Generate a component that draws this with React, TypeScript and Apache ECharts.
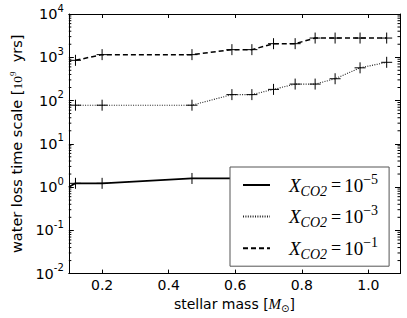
import React, { useEffect, useRef } from "react";
import * as echarts from "echarts";

// stellar masses [M_sun]
const masses = [0.12, 0.2, 0.47, 0.59, 0.65, 0.715, 0.78, 0.84, 0.9, 0.975, 1.055];
// X_CO2 = 1e-1 (dashed)
const dashedValues = [850, 1150, 1150, 1500, 1500, 2060, 2060, 2780, 2780, 2780, 2780];
// X_CO2 = 1e-3 (dotted)
const dottedValues = [78, 78, 78, 137, 137, 181, 240, 240, 319, 570, 765];
// X_CO2 = 1e-5 (solid), visible part
const solidMasses = [0.1, 0.12, 0.2, 0.47, 0.59];
const solidValues = [1.0, 1.22, 1.22, 1.58, 1.58];

const xTicks = [0.2, 0.4, 0.6, 0.8, 1.0];
const yExponents = [-2, -1, 0, 1, 2, 3, 4];
const minorMultipliers = [2, 3, 4, 5, 6, 7, 8, 9];

const legendNames = ["solid", "dotted", "dashed"];
const legendExponents = ["−5", "−3", "−1"];

const X_MIN = 0.1;
const X_MAX = 1.095;

const PLUS = "path://M5,0L5,10M0,5L10,5";

export default function App() {
  const ref = useRef<HTMLDivElement>(null);

  useEffect(() => {
    if (!ref.current) return;
    const chart = echarts.init(ref.current, null, { renderer: "svg" });

    const minorVals: number[][] = [];
    yExponents.slice(0, -1).forEach((e) => {
      minorMultipliers.forEach((m) => minorVals.push([X_MIN, m * Math.pow(10, e)]));
    });

    const sans = "DejaVu Sans";
    const serif = "Liberation Serif";

    const plusItem = { color: "none", borderColor: "#000", borderWidth: 1 };

    const option: any = {
      animation: false,
      backgroundColor: "#fff",
      grid: { left: 63, right: 7, top: 14, bottom: 42, containLabel: false },
      xAxis: [
        {
          type: "value",
          min: X_MIN,
          max: X_MAX,
          position: "bottom",
          splitLine: { show: false },
          axisLine: { show: true, onZero: false, lineStyle: { color: "#000", width: 1 } },
          axisTick: { inside: true, length: 4, customValues: xTicks, lineStyle: { color: "#000" } },
          axisLabel: {
            customValues: xTicks,
            margin: 4,
            color: "#000",
            fontSize: 14,
            fontFamily: sans,
            formatter: (v: number) => v.toFixed(1),
          },
          name: "{a|stellar mass [}{m|M}{s|⊙}{a|]}",
          nameLocation: "middle",
          nameGap: 15,
          nameTextStyle: {
            rich: {
              a: { fontSize: 14, fontFamily: sans, color: "#000", lineHeight: 18 },
              m: { fontSize: 15, fontFamily: serif, fontStyle: "italic", color: "#000", lineHeight: 18 },
              s: { fontSize: 10, fontFamily: sans, color: "#000", lineHeight: 10, verticalAlign: "bottom" },
            },
          },
        },
        {
          type: "value",
          min: X_MIN,
          max: X_MAX,
          position: "top",
          splitLine: { show: false },
          axisLine: { show: true, onZero: false, lineStyle: { color: "#000", width: 1 } },
          axisTick: { inside: true, length: 4, customValues: xTicks, lineStyle: { color: "#000" } },
          axisLabel: { show: false },
        },
      ],
      yAxis: [
        {
          type: "log",
          logBase: 10,
          min: 0.01,
          max: 10000,
          interval: 1,
          position: "left",
          splitLine: { show: false },
          axisLine: { show: true, onZero: false, lineStyle: { color: "#000", width: 1 } },
          axisTick: { inside: true, length: 5, lineStyle: { color: "#000" } },
          axisLabel: {
            margin: 5,
            color: "#000",
            formatter: (v: number) => {
              const e = Math.round(Math.log10(v));
              return "{b|10}{s|" + e + "}";
            },
            rich: {
              b: { fontSize: 14.5, fontFamily: sans, color: "#000", lineHeight: 22 },
              s: { fontSize: 10, fontFamily: sans, color: "#000", lineHeight: 10, verticalAlign: "top" },
            },
          },
          name: "{a|water loss time scale [}{m|10}{s|9}{a|  yrs]}",
          nameLocation: "middle",
          nameGap: 40,
          nameTextStyle: {
            rich: {
              a: { fontSize: 14.5, fontFamily: sans, color: "#000", lineHeight: 18 },
              m: { fontSize: 13.5, fontFamily: serif, color: "#000", lineHeight: 18 },
              s: { fontSize: 9, fontFamily: serif, color: "#000", lineHeight: 9, verticalAlign: "top" },
            },
          },
        },
        {
          type: "log",
          logBase: 10,
          min: 0.01,
          max: 10000,
          interval: 1,
          position: "right",
          splitLine: { show: false },
          axisLine: { show: true, onZero: false, lineStyle: { color: "#000", width: 1 } },
          axisTick: { inside: true, length: 5, lineStyle: { color: "#000" } },
          axisLabel: { show: false },
        },
      ],
      legend: {
        orient: "vertical",
        left: 230,
        top: 167,
        data: legendNames,
        backgroundColor: "#fff",
        borderColor: "#555",
        borderWidth: 1,
        borderRadius: 0,
        padding: [5, 11, 5, 12],
        itemGap: 5.6,
        itemWidth: 27,
        itemHeight: 14,
        itemStyle: { opacity: 0 },
        formatter: (name: string) => {
          const i = legendNames.indexOf(name);
          return "{g| }{x|X}{c|CO2}{q|=}{e|10}{p|" + legendExponents[i] + "}";
        },
        textStyle: {
          rich: {
            g: { width: 14, fontSize: 10, lineHeight: 26 },
            x: { fontSize: 19, fontFamily: serif, fontStyle: "italic", color: "#000", lineHeight: 26 },
            c: { fontSize: 14, fontFamily: serif, fontStyle: "italic", color: "#000", lineHeight: 11, verticalAlign: "bottom" },
            q: { fontSize: 18, fontFamily: serif, color: "#000", lineHeight: 26, padding: [0, 3, 0, 4] },
            e: { fontSize: 19, fontFamily: serif, color: "#000", lineHeight: 26 },
            p: { fontSize: 14, fontFamily: serif, color: "#000", lineHeight: 13, verticalAlign: "top" },
          },
        },
      },
      series: [
        {
          name: "solid",
          type: "line",
          data: solidMasses.map((m, i) => ({
            value: [m, solidValues[i]],
            symbol: i === 0 ? "none" : PLUS,
          })),
          symbol: PLUS,
          symbolSize: 11,
          showAllSymbol: true,
          itemStyle: plusItem,
          lineStyle: { color: "#000", width: 1.8, type: "solid" },
          z: 3,
        },
        {
          name: "dotted",
          type: "line",
          data: masses.map((m, i) => [m, dottedValues[i]]),
          symbol: PLUS,
          symbolSize: 11,
          showAllSymbol: true,
          itemStyle: plusItem,
          lineStyle: { color: "#222", width: 1.1, type: [1, 1.4] },
          z: 3,
        },
        {
          name: "dashed",
          type: "line",
          data: masses.map((m, i) => [m, dashedValues[i]]),
          symbol: PLUS,
          symbolSize: 11,
          showAllSymbol: true,
          itemStyle: plusItem,
          lineStyle: { color: "#000", width: 1.5, type: [5, 3] },
          z: 3,
        },
        {
          name: "minorTicks",
          type: "custom",
          silent: true,
          data: minorVals,
          renderItem: (params: any, api: any) => {
            const cs = params.coordSys;
            const y = api.coord([api.value(0), api.value(1)])[1];
            const st = { stroke: "#000", lineWidth: 1 };
            return {
              type: "group",
              children: [
                { type: "line", shape: { x1: cs.x, y1: y, x2: cs.x + 2.5, y2: y }, style: st },
                { type: "line", shape: { x1: cs.x + cs.width - 2.5, y1: y, x2: cs.x + cs.width, y2: y }, style: st },
              ],
            };
          },
          z: 2,
        },
      ],
    };

    chart.setOption(option);
    return () => chart.dispose();
  }, []);

  return (
    <div
      ref={ref}
      style={{ position: "fixed", left: 0, top: 0, width: 407, height: 318, background: "#fff" }}
    />
  );
}
